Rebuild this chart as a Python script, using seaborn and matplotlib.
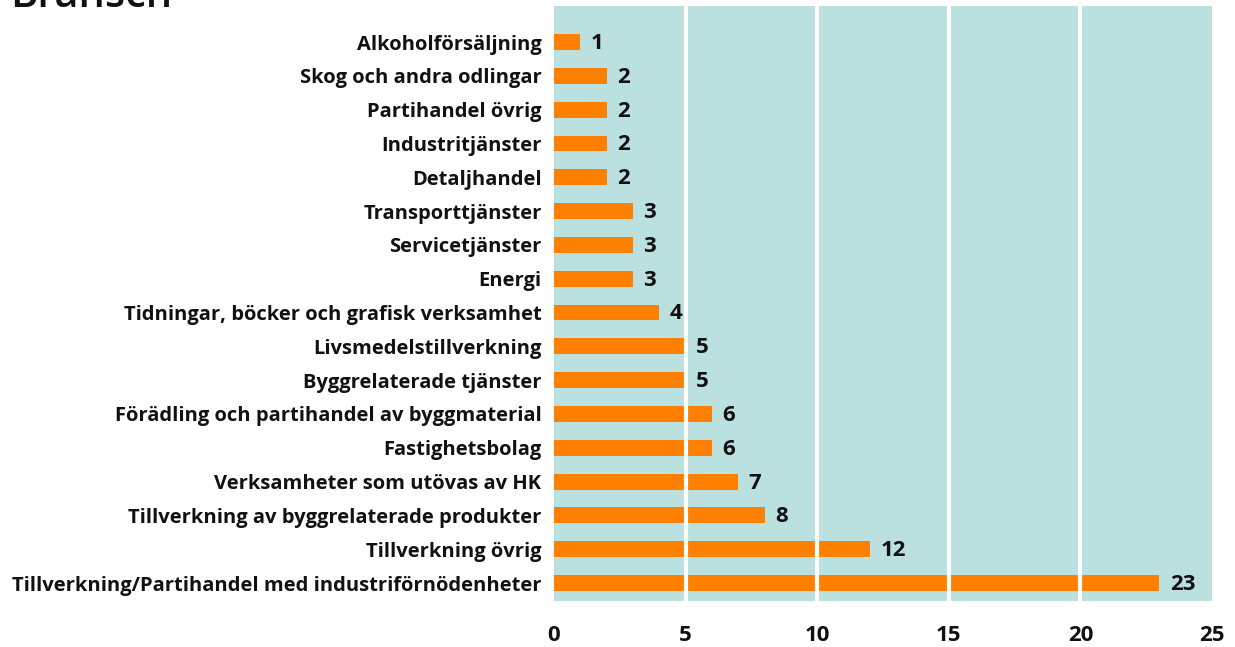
import matplotlib
matplotlib.use("Agg")
import matplotlib.pyplot as plt
import seaborn as sns
import pandas as pd

categories = [
    "Alkoholförsäljning",
    "Skog och andra odlingar",
    "Partihandel övrig",
    "Industritjänster",
    "Detaljhandel",
    "Transporttjänster",
    "Servicetjänster",
    "Energi",
    "Tidningar, böcker och grafisk verksamhet",
    "Livsmedelstillverkning",
    "Byggrelaterade tjänster",
    "Förädling och partihandel av byggmaterial",
    "Fastighetsbolag",
    "Verksamheter som utövas av HK",
    "Tillverkning av byggrelaterade produkter",
    "Tillverkning övrig",
    "Tillverkning/Partihandel med industriförnödenheter",
]
values = [1, 2, 2, 2, 2, 3, 3, 3, 4, 5, 5, 6, 6, 7, 8, 12, 23]
xticks = [0, 5, 10, 15, 20, 25]

df = pd.DataFrame({"Bransch": categories, "Antal": values})

sns.set_theme(style="white")
plt.rcParams["font.family"] = ["Open Sans", "DejaVu Sans"]

fig = plt.figure(figsize=(12.35, 6.47), dpi=100)
ax = fig.add_axes([554 / 1235, 1 - 601 / 647, (1212 - 554) / 1235, (601 - 6) / 647])
ax.set_facecolor("#bae0df")

sns.barplot(data=df, x="Antal", y="Bransch", orient="h", color="#ff8000",
            saturation=1, width=0.47, linewidth=0, ax=ax, zorder=2)

for i, v in enumerate(values):
    ax.annotate(str(v), (v, i), xytext=(7.5, -1), textcoords="offset points",
                va="center", ha="left", fontsize=16, fontweight="bold",
                color="#111111", zorder=5)

ax.set_xlim(0, 25)
ax.set_ylim(16.53, -1.065)
ax.set_xticks(xticks)
ax.set_xticklabels([str(t) for t in xticks], fontsize=16, fontweight="bold", color="#111111")
for t in xticks[1:-1]:
    ax.axvline(t, color="white", lw=3, zorder=3)
ax.tick_params(axis="x", length=0, pad=17)
ax.tick_params(axis="y", length=0, pad=9, labelsize=14.5, colors="#111111")
for lab in ax.get_yticklabels():
    lab.set_fontweight("bold")
ax.set_xlabel("")
ax.set_ylabel("")
for s in ax.spines.values():
    s.set_visible(False)

fig.text(10 / 1235, 1 - 7 / 647, "Bransch", fontsize=30, fontweight="semibold",
         va="baseline", ha="left", color="#111111")

fig.savefig("out.png", dpi=100, facecolor="white")
